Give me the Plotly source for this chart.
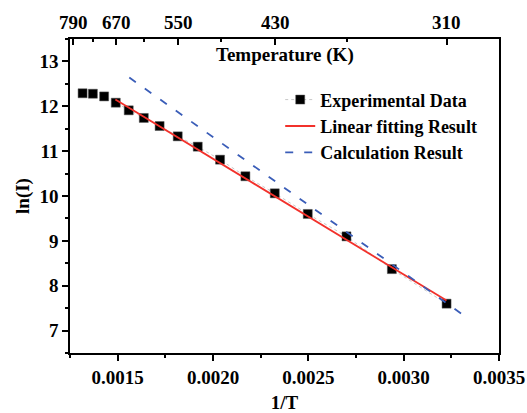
import plotly.graph_objects as go

# Experimental data (1/T, ln(I))
exp_x = [0.001316, 0.001370, 0.001429, 0.001490, 0.001558, 0.001637, 0.001720, 0.001815,
         0.001920, 0.002037, 0.002170, 0.002324, 0.002497, 0.002700, 0.002938, 0.003225]
exp_y = [12.29, 12.28, 12.22, 12.08, 11.91, 11.74, 11.56, 11.33,
         11.10, 10.81, 10.44, 10.06, 9.60, 9.10, 8.37, 7.60]

# Linear fitting result (end points)
fit_x = [0.001488, 0.003225]
fit_y = [12.15, 7.67]

# Calculation result (end points)
calc_x = [0.001561, 0.003305]
calc_y = [12.64, 7.37]

# Top axis temperature ticks (K)
temp_major = [790, 670, 550, 430, 310]
temp_minor = [730, 610, 490, 370]

FONT = "Liberation Serif"
BF = lambda s: dict(family=FONT, size=s, color="black", weight="bold")

fig = go.Figure()
fig.add_trace(go.Scatter(
    x=exp_x, y=exp_y, mode="lines+markers", name="Experimental Data",
    line=dict(color="#c8c8c8", width=1, dash="dot"),
    marker=dict(symbol="square", size=9, color="black",
                line=dict(color="#555555", width=0.5)),
))
fig.add_trace(go.Scatter(
    x=fit_x, y=fit_y, mode="lines", name="Linear fitting Result",
    line=dict(color="#f2312b", width=1.8),
))
fig.add_trace(go.Scatter(
    x=calc_x, y=calc_y, mode="lines", name="Calculation Result",
    line=dict(color="#3a5db8", width=1.8, dash="8px,11px"),
))
# invisible trace to activate the top axis
fig.add_trace(go.Scatter(x=[exp_x[0]], y=[exp_y[0]], xaxis="x2", mode="markers",
                         marker=dict(opacity=0), showlegend=False, hoverinfo="skip"))

xr = [0.00125, 0.0035]

# top-axis labels placed exactly at 1/T positions
top_labels = [dict(text=str(t), xref="x2", yref="paper", x=1.0 / t, y=1.0,
                   xanchor="center", yanchor="middle", yshift=17,
                   showarrow=False, font=BF(19)) for t in temp_major]

fig.update_layout(
    width=527, height=413,
    margin=dict(l=70, r=28, t=39, b=60),
    paper_bgcolor="white", plot_bgcolor="white",
    font=BF(19),
    showlegend=True,
    legend=dict(x=0.49, y=0.865, xanchor="left", yanchor="top",
                bgcolor="rgba(0,0,0,0)", font=BF(18),
                itemwidth=30, tracegroupgap=0),
    xaxis=dict(range=xr, showgrid=False, zeroline=False, automargin=False,
               showline=True, linecolor="black", linewidth=1.5, mirror=True,
               ticks="outside", ticklen=6, tickwidth=1.5, tickcolor="black",
               tickfont=BF(19),
               tickvals=[0.0015, 0.0020, 0.0025, 0.0030, 0.0035],
               ticktext=["0.0015", "0.0020", "0.0025", "0.0030", "0.0035"],
               minor=dict(tickvals=[0.00125, 0.00175, 0.00225, 0.00275, 0.00325],
                          ticks="outside", ticklen=3, tickwidth=1.5, tickcolor="black"),
               title=dict(text="1/T", standoff=20, font=BF(19))),
    xaxis2=dict(range=xr, overlaying="x", side="top", showgrid=False, zeroline=False,
                automargin=False, showticklabels=False,
                showline=False, ticks="inside", ticklen=6, tickwidth=1.5, tickcolor="black",
                tickvals=[1.0 / t for t in temp_major],
                minor=dict(tickvals=[1.0 / t for t in temp_minor],
                           ticks="inside", ticklen=3, tickwidth=1.5, tickcolor="black")),
    yaxis=dict(range=[6.5, 13.5], showgrid=False, zeroline=False, automargin=False,
               showline=True, linecolor="black", linewidth=1.5, mirror=True,
               ticks="outside", ticklen=6, tickwidth=1.5, tickcolor="black",
               tickfont=BF(19),
               tickvals=[7, 8, 9, 10, 11, 12, 13],
               minor=dict(tickvals=[6.5, 7.5, 8.5, 9.5, 10.5, 11.5, 12.5, 13.5],
                          ticks="outside", ticklen=3, tickwidth=1.5, tickcolor="black"),
               title=dict(text="ln(I)", standoff=5, font=BF(19))),
    annotations=[dict(text="Temperature (K)", xref="paper", yref="paper",
                      x=0.5, y=0.95, xanchor="center", yanchor="middle",
                      showarrow=False, font=BF(19))] + top_labels,
)

fig.write_html("out.html")
